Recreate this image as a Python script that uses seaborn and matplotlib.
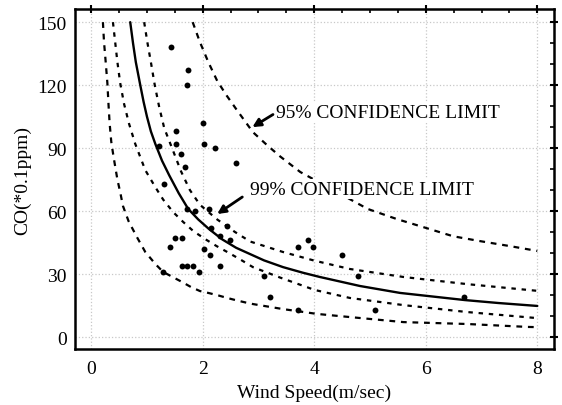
import matplotlib
matplotlib.use("Agg")
import matplotlib.pyplot as plt
import seaborn as sns
import pandas as pd
from matplotlib.ticker import MultipleLocator

sns.set_theme(style="white")
plt.rcParams['font.family'] = ['Liberation Serif', 'DejaVu Serif']

# ---- data ----
point_x = [1.43, 1.74, 1.72, 2.00, 1.52, 1.22, 1.52, 2.03, 2.22, 1.61, 2.60, 1.68,
           1.31, 1.72, 1.86, 2.11, 2.44, 2.15, 2.31, 2.49, 1.50, 1.62, 1.42, 2.02,
           2.13, 1.63, 1.71, 1.82, 2.31, 1.93, 1.29, 3.71, 3.89, 3.98, 4.50, 4.79,
           3.10, 3.21, 3.71, 5.09, 6.68]
point_y = [138, 127, 120, 102, 98, 91, 92, 92, 90, 87, 83, 81,
           73, 61, 60, 61, 53, 52, 48, 46, 47, 47, 43, 42,
           39, 34, 34, 34, 34, 31, 31, 43, 46, 43, 39, 29,
           29, 19, 13, 13, 19]

fit_x = [0.70, 0.75, 0.80, 0.88, 0.94, 1.00, 1.07, 1.15, 1.27, 1.40, 1.57, 1.74,
         1.92, 2.11, 2.35, 2.60, 2.85, 3.10, 3.44, 3.80, 4.10, 4.82, 5.54, 6.70,
         7.30, 8.00]
fit_y = [150, 140, 131, 120, 112, 105, 98, 92, 84, 77, 68.5, 61,
         56, 51.5, 46.5, 42.5, 39.5, 36.5, 33.3, 30.6, 28.6, 24.3, 21.0, 17.6,
         16.2, 14.8]

up99_x = [0.95, 1.01, 1.07, 1.14, 1.22, 1.31, 1.45, 1.61, 1.77, 1.95, 2.26, 2.58,
          2.85, 3.44, 4.00, 4.64, 5.60, 6.74, 8.00]
up99_y = [150, 140, 131, 120, 109.5, 99.5, 90, 79, 70, 63, 56, 50,
          45.5, 40.5, 36.4, 32.4, 28.6, 25.2, 22.0]

lo99_x = [0.39, 0.43, 0.47, 0.52, 0.59, 0.68, 0.79, 0.97, 1.15, 1.29, 1.47, 1.65,
          1.83, 2.04, 2.25, 2.44, 2.67, 2.90, 3.39, 4.01, 4.64, 5.60, 6.74, 8.00]
lo99_y = [150, 140.5, 131, 121, 111, 101.5, 92, 79.5, 71.4, 65.5, 59.5, 54.8,
          50.5, 46.7, 43.3, 40.5, 37.0, 33.3, 28.3, 22.4, 18.6, 15.2, 11.9, 9.0]

up95_x = [1.82, 1.95, 2.10, 2.26, 2.43, 2.60, 2.90, 3.15, 3.39, 3.75, 4.96, 5.48,
          5.95, 6.49, 6.97, 7.51, 8.00]
up95_y = [150, 140.5, 131, 122, 115, 108.6, 97.6, 91.5, 86, 78.6, 61, 56.2,
          52.4, 48, 45.7, 43.3, 41]

lo95_x = [0.21, 0.23, 0.26, 0.29, 0.31, 0.33, 0.36, 0.40, 0.47, 0.52, 0.57, 0.67,
          0.82, 0.97, 1.15, 1.29, 1.63, 1.79, 1.95, 2.10, 2.28, 2.44, 2.60, 2.76,
          2.90, 3.44, 4.05, 4.64, 5.60, 6.74, 7.83, 8.00]
lo95_y = [150, 140.5, 131, 121, 111, 102, 93, 86, 75, 69, 62.4, 55.2,
          47.6, 40.5, 34.8, 31, 26.2, 23.8, 21.9, 21.0, 19.8, 18.6, 17.5, 16.5,
          15.7, 13.3, 11.0, 9.5, 7.1, 6.2, 4.8, 4.7]

x_ticks = [0, 2, 4, 6, 8]
x_ticklabels = ["0", "2", "4", "6", "8"]
y_ticks = [0, 30, 60, 90, 120, 150]

label_95 = "95% CONFIDENCE LIMIT"
label_99 = "99% CONFIDENCE LIMIT"

# ---- figure ----
fig = plt.figure(figsize=(5.62, 4.06), dpi=100)
ax = fig.add_axes([0.1335, 0.138, 0.8523, 0.837])

ax.grid(True, which="major", color="#c8c8c8", linestyle=":", linewidth=0.9)

curves = [
    (fit_x, fit_y, "-", 1.7),
    (up99_x, up99_y, (0, (2.0, 2.6)), 1.6),
    (lo99_x, lo99_y, (0, (2.0, 2.6)), 1.6),
    (up95_x, up95_y, (0, (2.6, 2.6)), 1.6),
    (lo95_x, lo95_y, (0, (2.6, 2.6)), 1.6),
]
for cx, cy, ls, lw in curves:
    df = pd.DataFrame({"x": cx, "y": cy})
    sns.lineplot(data=df, x="x", y="y", sort=False, estimator=None, ax=ax,
                 color="black", linewidth=lw, linestyle=ls)

pts = pd.DataFrame({"x": point_x, "y": point_y})
sns.scatterplot(data=pts, x="x", y="y", ax=ax, color="black", s=18,
                edgecolor="black", linewidth=0, zorder=3)

ax.set_xlim(-0.29, 8.30)
ax.set_ylim(-5.7, 156.2)
ax.set_xticks(x_ticks)
ax.set_xticklabels(x_ticklabels)
ax.set_yticks(y_ticks)
ax.xaxis.set_minor_locator(MultipleLocator(0.5))
ax.yaxis.set_minor_locator(MultipleLocator(10))
ax.tick_params(which="major", direction="inout", length=6, width=1.5,
               labelsize=14, top=True, right=True, color="black",
               labelcolor="black", pad=3)
ax.tick_params(which="minor", direction="in", length=3, width=1.2,
               top=True, right=True, color="black")
ax.tick_params(axis="x", which="major", pad=5)
for s in ax.spines.values():
    s.set_visible(True)
    s.set_color("black")
    s.set_linewidth(1.8)

ax.set_xlabel("Wind Speed(m/sec)", fontsize=14, color="black", labelpad=5)
ax.set_ylabel("CO(*0.1ppm)", fontsize=14, color="black", labelpad=4)

ax.text(3.32, 107, label_95, fontsize=14, ha="left", va="center",
        color="black", zorder=5,
        bbox=dict(facecolor="white", edgecolor="none", pad=1))
ax.text(2.85, 70.5, label_99, fontsize=14, ha="left", va="center",
        color="black", zorder=5,
        bbox=dict(facecolor="white", edgecolor="none", pad=1))
ax.annotate("", xy=(2.89, 100), xytext=(3.26, 106),
            arrowprops=dict(arrowstyle="-|>", color="black", lw=2,
                            mutation_scale=12, shrinkA=0, shrinkB=0), zorder=6)
ax.annotate("", xy=(2.26, 58.6), xytext=(2.71, 66.7),
            arrowprops=dict(arrowstyle="-|>", color="black", lw=2,
                            mutation_scale=12, shrinkA=0, shrinkB=0), zorder=6)

fig.savefig("out.png", dpi=100)
